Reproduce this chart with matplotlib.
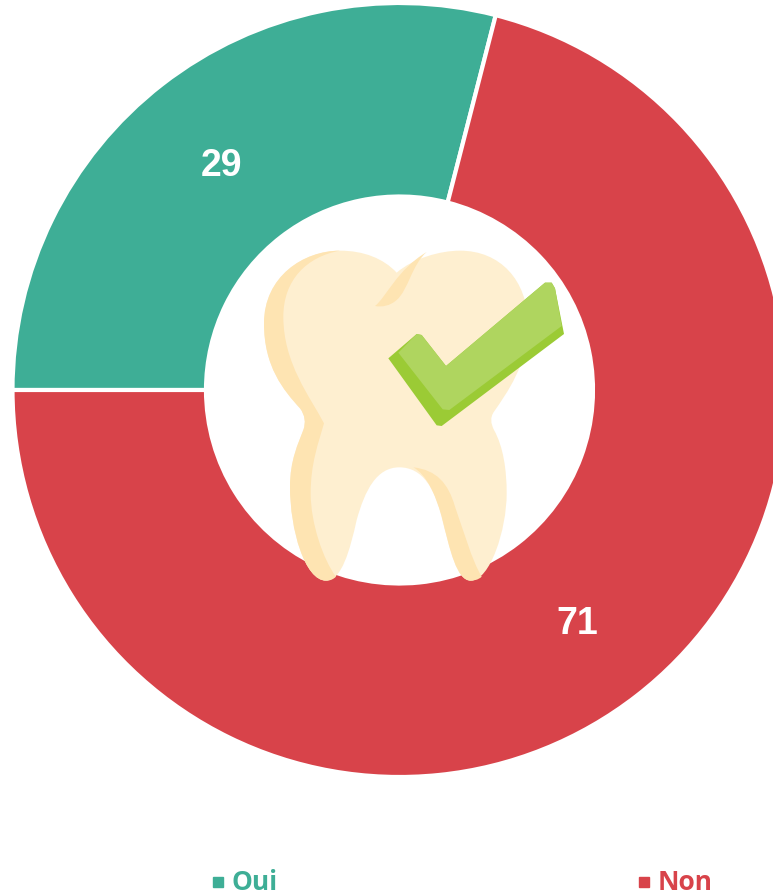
import matplotlib
matplotlib.use('Agg')
import matplotlib.pyplot as plt
from matplotlib.patches import PathPatch
from matplotlib.path import Path

# Данные диаграммы
categories = ['Oui', 'Non']
values = [29, 71]
colors = ['#3EAE96', '#D8434A']

W, H = 773, 896
TOOTH_LIGHT = '#FEEFD0'
TOOTH_DARK = '#FEE4B2'
CHECK_LIGHT = '#AFD55F'
CHECK_DARK = '#9BCB35'


def zp(x, y):
    return 240 + x / 3, H - (230 + y / 3)


def curve(ax, start, segs, color, z):
    # start + кубические сегменты (c1, c2, end) или прямые (end)
    verts = [zp(*start)]
    codes = [Path.MOVETO]
    for seg in segs:
        if len(seg) == 3:
            verts += [zp(*p) for p in seg]
            codes += [Path.CURVE4] * 3
        else:
            verts.append(zp(*seg[0]))
            codes.append(Path.LINETO)
    verts.append(verts[0])
    codes.append(Path.CLOSEPOLY)
    ax.add_patch(PathPatch(Path(verts, codes), facecolor=color, edgecolor='none', zorder=z))


fig = plt.figure(figsize=(W / 100, H / 100), dpi=100)
ax = fig.add_axes([0, 0, 1, 1])

# Кольцевая диаграмма
wedges, texts, autotexts = ax.pie(
    values, colors=colors, startangle=180, counterclock=False,
    center=(399.5, H - 390), radius=387, frame=False,
    wedgeprops={'width': 193.5, 'edgecolor': 'white', 'linewidth': 3},
    autopct=lambda p: f'{p:.0f}', pctdistance=0.75,
    textprops={'color': 'white', 'fontsize': 27, 'fontweight': 'bold',
               'family': 'Liberation Sans'})
for t in autotexts:
    t.set_y(t.get_position()[1] - 5)
ax.set_xlim(0, W)
ax.set_ylim(0, H)
ax.axis('off')

# Зуб
curve(ax, (470, 128), [
    ((520, 85), (600, 62), (660, 62)),
    ((780, 62), (862, 150), (864, 280)),
    ((866, 400), (800, 490), (762, 545)),
    ((750, 562), (752, 580), (762, 600)),
    ((790, 650), (800, 720), (800, 790)),
    ((800, 900), (750, 1052), (692, 1052)),
    ((650, 1052), (630, 960), (605, 860)),
    ((585, 780), (550, 712), (478, 712)),
    ((410, 712), (375, 780), (350, 870)),
    ((330, 960), (305, 1052), (258, 1052)),
    ((195, 1052), (150, 900), (150, 770)),
    ((150, 690), (175, 640), (190, 600)),
    ((198, 578), (195, 555), (180, 535)),
    ((130, 480), (72, 410), (72, 280)),
    ((72, 140), (190, 62), (300, 62)),
    ((370, 62), (430, 85), (470, 128)),
], TOOTH_LIGHT, 3)
# левая тень
curve(ax, (300, 62), [
    ((190, 62), (72, 140), (72, 280)),
    ((72, 410), (130, 480), (180, 535)),
    ((195, 555), (198, 578), (190, 600)),
    ((175, 640), (150, 690), (150, 770)),
    ((150, 900), (195, 1052), (258, 1052)),
    ((270, 1052), (280, 1048), (288, 1040)),
    ((250, 990), (212, 880), (212, 790)),
    ((212, 700), (235, 640), (252, 580)),
    ((210, 500), (130, 400), (130, 260)),
    ((130, 150), (200, 80), (300, 62)),
], TOOTH_DARK, 4)
# тень между буграми
curve(ax, (405, 228), [
    ((440, 200), (470, 120), (560, 66)),
    ((515, 105), (505, 180), (470, 210)),
    ((450, 228), (425, 232), (405, 228)),
], TOOTH_DARK, 4)
# тень внутреннего корня
curve(ax, (520, 712), [
    ((590, 720), (625, 760), (645, 830)),
    ((670, 900), (695, 990), (725, 1040)),
    ((715, 1050), (700, 1052), (692, 1052)),
    ((650, 1052), (630, 960), (605, 860)),
    ((585, 790), (560, 735), (520, 712)),
], TOOTH_DARK, 4)

# Галочка
curve(ax, (445, 385), [
    [(530, 312)], [(545, 315)], [(618, 408)], [(915, 158)], [(935, 158)],
    [(945, 175)], [(972, 312)], [(605, 588)], [(590, 586)],
], CHECK_DARK, 5)
curve(ax, (475, 368), [
    [(530, 312)], [(545, 315)], [(618, 408)], [(915, 158)], [(935, 158)],
    [(945, 175)], [(965, 288)], [(628, 540)], [(608, 538)],
], CHECK_LIGHT, 6)

# Легенда
legend_x = [218, 644]
for name, color, x in zip(categories, colors, legend_x):
    ax.plot([x], [H - 882], marker='s', markersize=7, color=color, linestyle='none', zorder=7)
    ax.text(x + 13.5, H - 882.5, name, color=color, fontsize=19, fontweight='bold',
            family='Open Sans', ha='left', va='center')

fig.savefig('out.png', dpi=100)
